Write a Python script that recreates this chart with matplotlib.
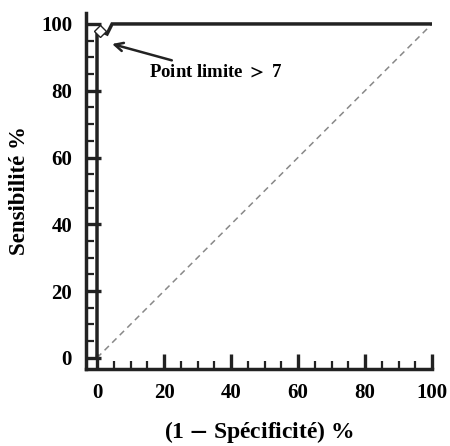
import matplotlib.pyplot as plt
from matplotlib.ticker import MultipleLocator

# ROC curve points (1 - specificity %, sensitivity %)
fpr = [0, 0, 0.9, 3, 4.5, 100]
tpr = [0, 97, 98, 97, 100, 100]
cutoff_x = 0.9
cutoff_y = 98
ticks = [0, 20, 40, 60, 80, 100]

plt.rcParams['font.family'] = ['Liberation Serif', 'DejaVu Serif']
plt.rcParams['font.weight'] = 'bold'
plt.rcParams['mathtext.fontset'] = 'stix'

fig = plt.figure(figsize=(4.5, 4.46), dpi=100)
ax = fig.add_axes([0.191, 0.173, 0.769, 0.798])

ax.plot([0, 100], [0, 100], color='#888888', linestyle=(0, (4, 3)), linewidth=1.1)
ax.plot(fpr, tpr, color='#222222', linewidth=2.5, solid_joinstyle='miter')
ax.plot([cutoff_x], [cutoff_y], marker='D', markersize=6, markerfacecolor='white',
        markeredgecolor='#222222', markeredgewidth=1.0, zorder=5)

ax.annotate('Point limite $>$ 7', xy=(4.5, 94), xytext=(15.5, 85.5),
            fontsize=13.5, fontweight='bold', va='center', ha='left',
            arrowprops=dict(arrowstyle='->', color='#222222', lw=1.8,
                            mutation_scale=15, shrinkA=2, shrinkB=0))

ax.set_xlim(-3.3, 100)
ax.set_ylim(-3.3, 103.3)
ax.set_xticks(ticks)
ax.set_yticks(ticks)
ax.xaxis.set_minor_locator(MultipleLocator(5))
ax.yaxis.set_minor_locator(MultipleLocator(5))
ax.tick_params(which='major', direction='in', length=11, width=2.4, labelsize=15, pad=10, color='#222222')
ax.tick_params(which='minor', direction='in', length=5.5, width=1.6, color='#222222')

for s in ['top', 'right']:
    ax.spines[s].set_visible(False)
for s in ['left', 'bottom']:
    ax.spines[s].set_linewidth(2.5)
    ax.spines[s].set_color('#222222')

ax.set_xlabel('(1 $-$ Spécificité) %', fontsize=17, fontweight='bold', labelpad=12)
ax.set_ylabel('Sensibilité %', fontsize=16.5, fontweight='bold', labelpad=8)

fig.savefig('out.png', dpi=100)
